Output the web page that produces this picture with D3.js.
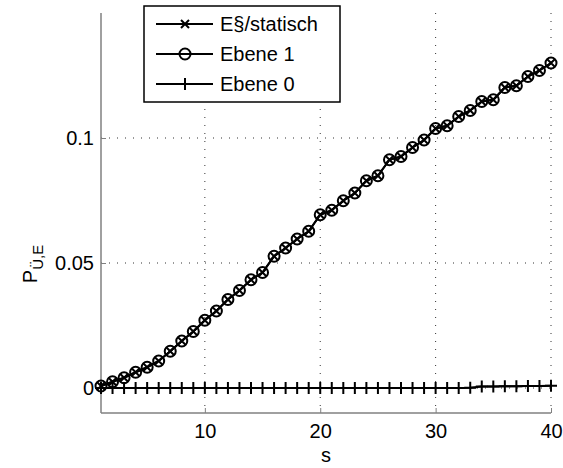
<!DOCTYPE html>
<html>
<head>
<meta charset="utf-8">
<script src="https://cdn.jsdelivr.net/npm/d3@7"></script>
<style>
  body { margin: 0; background: #fff; }
  svg text { font-family: "Liberation Sans", Arial, sans-serif; fill: #000; }
</style>
</head>
<body>
<svg id="viz" width="563" height="468"></svg>
<script>
// chart values
const steps = d3.range(1, 41)
const ebene1 = [0.0008, 0.0025, 0.0041, 0.0063, 0.0083, 0.0108, 0.0147, 0.0188, 0.0226, 0.0271,
                0.0308, 0.0354, 0.039, 0.0433, 0.0462, 0.0527, 0.056, 0.0596, 0.0627, 0.0693,
                0.0711, 0.0749, 0.078, 0.0829, 0.0849, 0.0913, 0.0926, 0.0962, 0.0992, 0.1038,
                0.1049, 0.1086, 0.111, 0.1146, 0.1153, 0.1202, 0.1209, 0.1246, 0.127, 0.1300]
const statisch = ebene1.slice()
const ebene0 = [0, 0, 0, 0, 0, 0, 0, 0, 0, 0,
                0, 0, 0, 0, 0, 0, 0, 0, 0, 0,
                0, 0, 0, 0, 0, 0, 0, 0, 0, 0,
                0, 0, 0.0001, 0.0006, 0.0006, 0.0007, 0.0007, 0.0008, 0.0008, 0.0009]
const xTicks = [10, 20, 30, 40]
const yTicks = [0, 0.05, 0.1]
const legendLabels = ["E§/statisch", "Ebene 1", "Ebene 0"]

const MARGIN = {top: 13, bottom: 55, left: 101, right: 12}
const svg = d3.select("svg#viz")
const width = +svg.attr("width")
const height = +svg.attr("height")
const m_width = width - (MARGIN.left + MARGIN.right)
const m_height = height - (MARGIN.top + MARGIN.bottom)
const chart = svg.append("g").attr("transform", `translate(${MARGIN.left}, ${MARGIN.top})`)

const x_scale = d3.scaleLinear().domain([1, 40]).range([0, m_width])
const y_scale = d3.scaleLinear().domain([-0.01, 0.15]).range([m_height, 0])

// grid
const grid = chart.append("g").attr("class", "grid")
grid.selectAll("line.vx").data(xTicks).join("line")
    .attr("x1", d => x_scale(d)).attr("x2", d => x_scale(d))
    .attr("y1", 0).attr("y2", m_height)
    .attr("stroke", "#333").attr("stroke-width", 1).attr("stroke-dasharray", "1,7")
grid.selectAll("line.hy").data(yTicks).join("line")
    .attr("x1", 0).attr("x2", m_width)
    .attr("y1", d => y_scale(d)).attr("y2", d => y_scale(d))
    .attr("stroke", "#333").attr("stroke-width", 1).attr("stroke-dasharray", "1,7")

// axes
const x_axis = d3.axisBottom(x_scale).tickValues(xTicks).tickSize(-5).tickPadding(11)
const y_axis = d3.axisLeft(y_scale).tickValues(yTicks).tickSize(-5).tickPadding(7)
    .tickFormat(d => d === 0 ? "0" : String(d))
const xa = chart.append("g").attr("transform", `translate(0,${m_height})`).call(x_axis)
const ya = chart.append("g").call(y_axis)
;[xa, ya].forEach(a => {
    a.select(".domain").attr("stroke", "#808080").attr("stroke-width", 1.5)
    a.selectAll(".tick line").attr("stroke", "#808080")
    a.selectAll(".tick text").style("font-size", "20px")
})
ya.select(".domain").attr("d", `M0,${m_height}V0`)
xa.select(".domain").attr("d", `M0,0H${m_width}`)

// lines
const line = (vals) => d3.line().x((d, i) => x_scale(steps[i])).y(d => y_scale(d))(vals)
const data = chart.append("g")
;[statisch, ebene1, ebene0].forEach(vals => {
    data.append("path").attr("d", line(vals))
        .attr("fill", "none").attr("stroke", "#000").attr("stroke-width", 2)
})

// markers
const crossPath = r => `M${-r},${-r}L${r},${r}M${-r},${r}L${r},${-r}`
const plusPath = r => `M${-r},0H${r}M0,${-r}V${r}`
data.selectAll("circle.e1").data(ebene1).join("circle")
    .attr("class", "e1")
    .attr("cx", (d, i) => x_scale(steps[i])).attr("cy", d => y_scale(d))
    .attr("r", 5.5).attr("fill", "none").attr("stroke", "#000").attr("stroke-width", 2)
data.selectAll("path.st").data(statisch).join("path")
    .attr("class", "st")
    .attr("transform", (d, i) => `translate(${x_scale(steps[i])},${y_scale(d)})`)
    .attr("d", crossPath(4)).attr("stroke", "#000").attr("stroke-width", 2)
data.selectAll("path.e0").data(ebene0).join("path")
    .attr("class", "e0")
    .attr("transform", (d, i) => `translate(${x_scale(steps[i])},${y_scale(d)})`)
    .attr("d", plusPath(6)).attr("stroke", "#000").attr("stroke-width", 2)

// labels
svg.append("text").attr("x", MARGIN.left + x_scale(20.5)).attr("y", 462)
    .attr("text-anchor", "middle").style("font-size", "20px").text("s")
const yl = svg.append("text").attr("transform", "translate(37,264) rotate(-90)")
    .attr("text-anchor", "middle").style("font-size", "20px")
yl.append("tspan").text("P")
yl.append("tspan").attr("dy", 6).style("font-size", "15px").text("Ü,E")

// legend
const lg = svg.append("g").attr("transform", "translate(144,6)")
lg.append("rect").attr("width", 196).attr("height", 96)
    .attr("fill", "#fff").attr("stroke", "#000").attr("stroke-width", 1.5)
const items = lg.selectAll("g.item").data(legendLabels).join("g")
    .attr("class", "item").attr("transform", (d, i) => `translate(0,${18 + i * 30})`)
items.append("line").attr("x1", 12).attr("x2", 69).attr("stroke", "#000").attr("stroke-width", 2)
items.each(function(d, i) {
    const g = d3.select(this)
    if (i === 0) g.append("path").attr("transform", "translate(41,0)").attr("d", crossPath(4))
        .attr("stroke", "#000").attr("stroke-width", 2)
    if (i === 1) g.append("circle").attr("cx", 41).attr("r", 5.5)
        .attr("fill", "none").attr("stroke", "#000").attr("stroke-width", 2)
    if (i === 2) g.append("path").attr("transform", "translate(41,0)").attr("d", plusPath(6))
        .attr("stroke", "#000").attr("stroke-width", 2)
})
items.append("text").attr("x", 76).attr("y", 7).style("font-size", "20px").text(d => d)
</script>
</body>
</html>
